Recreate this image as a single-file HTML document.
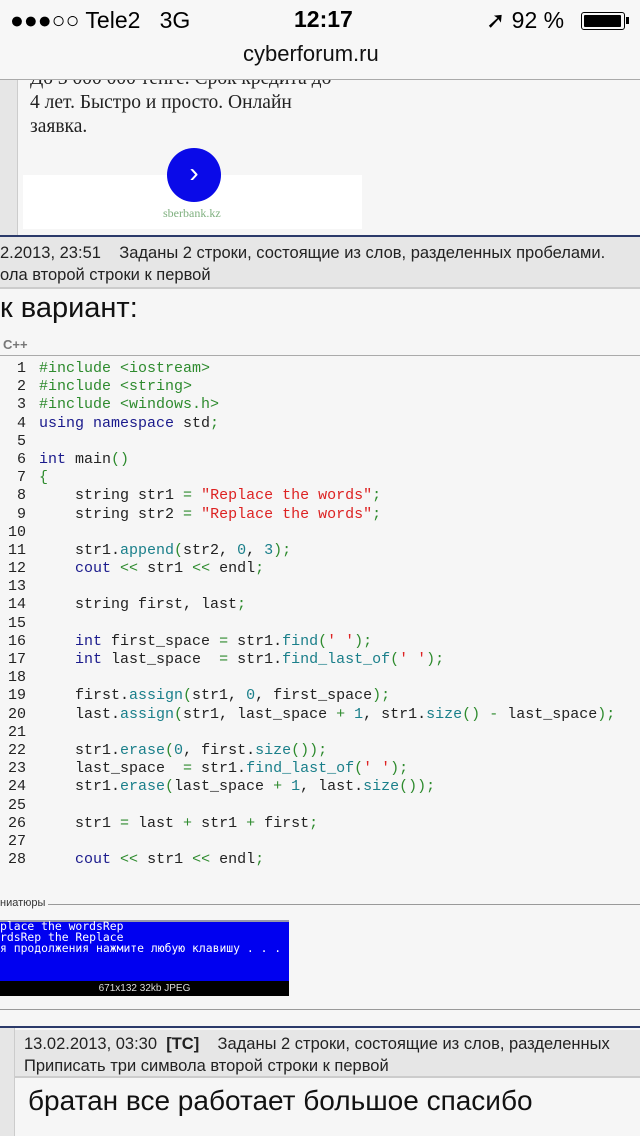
<!DOCTYPE html>
<html><head><meta charset="utf-8"><style>
body{margin:0;width:640px;height:1136px;overflow:hidden;background:#f6f6f6;font-family:"Liberation Sans","DejaVu Sans",sans-serif;position:relative}
.a{position:absolute;white-space:pre}
.code{position:absolute;left:0;top:360px;font-family:"Liberation Mono",monospace;font-size:15px;line-height:18.19px;color:#222}
.code div{white-space:pre;height:18.19px}
.n{display:inline-block;width:26px;text-align:right;color:#222;margin-right:13px}
.p{color:#2e8b2e}.k{color:#1a1a8c}.s{color:#d22}.f{color:#1a7f8a}.g{color:#2e8b2e}
</style></head><body>
<div class="a" style="left:30px;top:67px;font-family:'Liberation Serif',serif;font-size:19.5px;line-height:24px;color:#222">До 3 000 000 тенге. Срок кредита до
4 лет. Быстро и просто. Онлайн
заявка.</div>
<div class="a" style="left:0;top:0;width:640px;height:79px;background:#f7f7f7;border-bottom:1px solid #aaa"></div>
<div class="a" style="left:10px;top:7px;font-size:23px;color:#000">●●●○○ Tele2&nbsp;&nbsp;&nbsp;3G</div>
<div class="a" style="left:294px;top:6px;font-size:23px;font-weight:bold;color:#000">12:17</div>
<div class="a" style="left:486px;top:7px;font-size:23px;color:#000">➚ 92 %</div>
<div class="a" style="left:581px;top:12px;width:42px;height:16px;border:1.5px solid #000;border-radius:3px"></div>
<div class="a" style="left:584px;top:15px;width:37px;height:12px;background:#000;border-radius:1px"></div>
<div class="a" style="left:626px;top:17px;width:3px;height:7px;background:#000"></div>
<div class="a" style="left:243px;top:41px;font-size:22px;color:#111">cyberforum.ru</div>
<div class="a" style="left:0;top:80px;width:17px;height:155px;background:#e6e6e6;border-right:1px solid #ccc"></div>
<div class="a" style="left:23px;top:175px;width:339px;height:54px;background:#fff"></div>
<div class="a" style="left:167px;top:148px;width:54px;height:54px;border-radius:50%;background:#0a0ae8;color:#fff;font-size:28px;text-align:center;line-height:50px">›</div>
<div class="a" style="left:163px;top:206px;font-family:'Liberation Serif',serif;font-size:12px;color:#7fb07f">sberbank.kz</div>
<div class="a" style="left:0;top:235px;width:640px;height:50px;background:#e6e6e6;border-top:2px solid #2b3a6a;border-bottom:2px solid #ccc"></div>
<div class="a" style="left:0;top:242px;font-size:16.5px;line-height:22px;color:#222">2.2013, 23:51&nbsp;&nbsp;&nbsp;&nbsp;Заданы 2 строки, состоящие из слов, разделенных пробелами.
ола второй строки к первой</div>
<div class="a" style="left:0;top:292px;font-size:29px;color:#111">к вариант:</div>
<div class="a" style="left:3px;top:337px;font-size:13px;font-weight:bold;color:#777">C++</div>
<div class="a" style="left:0;top:355px;width:640px;height:1px;background:#aaa"></div>
<div class="code">
<div><span class="n">1</span><span class="p">#include &lt;iostream&gt;</span></div>
<div><span class="n">2</span><span class="p">#include &lt;string&gt;</span></div>
<div><span class="n">3</span><span class="p">#include &lt;windows.h&gt;</span></div>
<div><span class="n">4</span><span class="k">using namespace</span> std<span class="g">;</span></div>
<div><span class="n">5</span></div>
<div><span class="n">6</span><span class="k">int</span> main<span class="g">()</span></div>
<div><span class="n">7</span><span class="g">{</span></div>
<div><span class="n">8</span>    string str1 <span class="g">=</span> <span class="s">"Replace the words"</span><span class="g">;</span></div>
<div><span class="n">9</span>    string str2 <span class="g">=</span> <span class="s">"Replace the words"</span><span class="g">;</span></div>
<div><span class="n">10</span></div>
<div><span class="n">11</span>    str1.<span class="f">append</span><span class="g">(</span>str2, <span class="f">0</span>, <span class="f">3</span><span class="g">);</span></div>
<div><span class="n">12</span>    <span class="k">cout</span> <span class="g">&lt;&lt;</span> str1 <span class="g">&lt;&lt;</span> endl<span class="g">;</span></div>
<div><span class="n">13</span></div>
<div><span class="n">14</span>    string first, last<span class="g">;</span></div>
<div><span class="n">15</span></div>
<div><span class="n">16</span>    <span class="k">int</span> first_space <span class="g">=</span> str1.<span class="f">find</span><span class="g">(</span><span class="s">' '</span><span class="g">);</span></div>
<div><span class="n">17</span>    <span class="k">int</span> last_space  <span class="g">=</span> str1.<span class="f">find_last_of</span><span class="g">(</span><span class="s">' '</span><span class="g">);</span></div>
<div><span class="n">18</span></div>
<div><span class="n">19</span>    first.<span class="f">assign</span><span class="g">(</span>str1, <span class="f">0</span>, first_space<span class="g">);</span></div>
<div><span class="n">20</span>    last.<span class="f">assign</span><span class="g">(</span>str1, last_space <span class="g">+</span> <span class="f">1</span>, str1.<span class="f">size</span><span class="g">()</span> <span class="g">-</span> last_space<span class="g">);</span></div>
<div><span class="n">21</span></div>
<div><span class="n">22</span>    str1.<span class="f">erase</span><span class="g">(</span><span class="f">0</span>, first.<span class="f">size</span><span class="g">());</span></div>
<div><span class="n">23</span>    last_space  <span class="g">=</span> str1.<span class="f">find_last_of</span><span class="g">(</span><span class="s">' '</span><span class="g">);</span></div>
<div><span class="n">24</span>    str1.<span class="f">erase</span><span class="g">(</span>last_space <span class="g">+</span> <span class="f">1</span>, last.<span class="f">size</span><span class="g">());</span></div>
<div><span class="n">25</span></div>
<div><span class="n">26</span>    str1 <span class="g">=</span> last <span class="g">+</span> str1 <span class="g">+</span> first<span class="g">;</span></div>
<div><span class="n">27</span></div>
<div><span class="n">28</span>    <span class="k">cout</span> <span class="g">&lt;&lt;</span> str1 <span class="g">&lt;&lt;</span> endl<span class="g">;</span></div>
</div>
<div class="a" style="left:0;top:904px;width:640px;height:1px;background:#999"></div>
<div class="a" style="left:0;top:897px;font-size:11px;color:#333;background:#f6f6f6;padding-right:3px">ниатюры</div>
<div class="a" style="left:0;top:920px;width:289px;height:61px;background:#0000f0;border-top:2px solid #99a"></div>
<div class="a" style="left:0;top:921px;font-family:'DejaVu Sans Mono',monospace;font-size:11.4px;line-height:11px;color:#fff">place the wordsRep
rdsRep the Replace
я продолжения нажмите любую клавишу . . .</div>
<div class="a" style="left:0;top:981px;width:289px;height:15px;background:#000;color:#ddd;font-size:10px;line-height:15px;text-align:center">671x132 32kb JPEG</div>
<div class="a" style="left:0;top:1009px;width:640px;height:1px;background:#999"></div>
<div class="a" style="left:0;top:1026px;width:640px;height:2px;background:#2b3a6a"></div>
<div class="a" style="left:0;top:1028px;width:14px;height:108px;background:#e6e6e6;border-right:1px solid #ccc"></div>
<div class="a" style="left:15px;top:1030px;width:625px;height:46px;background:#e6e6e6;border-bottom:2px solid #ccc"></div>
<div class="a" style="left:24px;top:1033px;font-size:16.5px;line-height:22px;color:#222">13.02.2013, 03:30&nbsp;&nbsp;<b>[TC]</b>&nbsp;&nbsp;&nbsp;&nbsp;Заданы 2 строки, состоящие из слов, разделенных
Приписать три символа второй строки к первой</div>
<div class="a" style="left:28px;top:1085px;font-size:28px;color:#111">братан все работает большое спасибо</div>
</body></html>
